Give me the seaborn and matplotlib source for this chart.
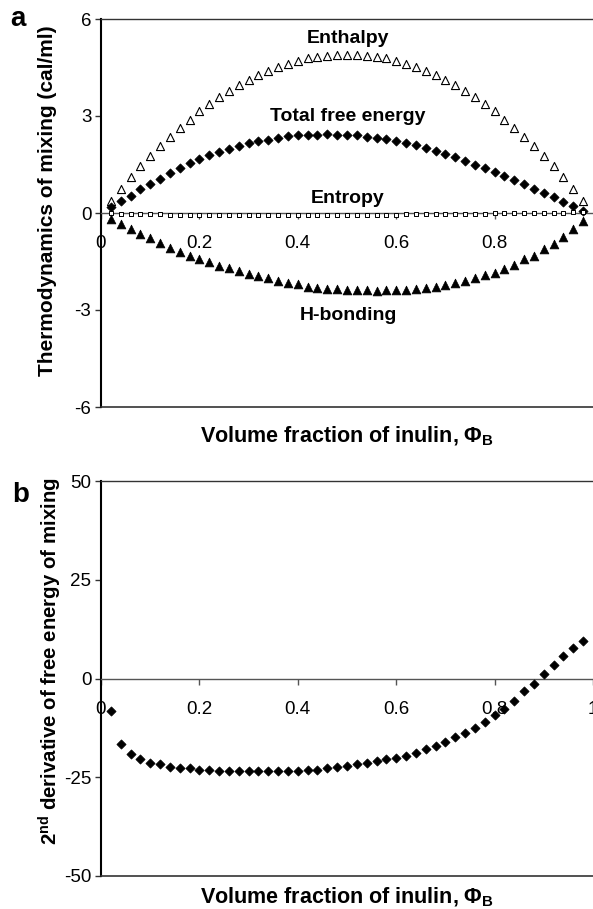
import matplotlib
matplotlib.use("Agg")
import matplotlib.pyplot as plt
import seaborn as sns
import pandas as pd

phi = [0.02, 0.04, 0.06, 0.08, 0.10, 0.12, 0.14, 0.16, 0.18, 0.20,
       0.22, 0.24, 0.26, 0.28, 0.30, 0.32, 0.34, 0.36, 0.38, 0.40,
       0.42, 0.44, 0.46, 0.48, 0.50, 0.52, 0.54, 0.56, 0.58, 0.60,
       0.62, 0.64, 0.66, 0.68, 0.70, 0.72, 0.74, 0.76, 0.78, 0.80,
       0.82, 0.84, 0.86, 0.88, 0.90, 0.92, 0.94, 0.96, 0.98]

enthalpy = [0.38, 0.75, 1.11, 1.44, 1.76, 2.07, 2.36, 2.63, 2.89, 3.14,
            3.36, 3.58, 3.77, 3.95, 4.12, 4.27, 4.40, 4.52, 4.62, 4.70,
            4.78, 4.83, 4.87, 4.89, 4.90, 4.89, 4.87, 4.83, 4.78, 4.70,
            4.62, 4.52, 4.40, 4.27, 4.12, 3.95, 3.77, 3.58, 3.36, 3.14,
            2.89, 2.63, 2.36, 2.07, 1.76, 1.44, 1.11, 0.75, 0.38]

free_energy = [0.19, 0.38, 0.54, 0.73, 0.90, 1.05, 1.23, 1.38, 1.54, 1.66,
               1.79, 1.88, 1.98, 2.07, 2.16, 2.22, 2.27, 2.32, 2.38, 2.40,
               2.42, 2.42, 2.45, 2.42, 2.42, 2.40, 2.36, 2.33, 2.29, 2.22,
               2.16, 2.10, 2.02, 1.93, 1.83, 1.74, 1.62, 1.50, 1.38, 1.27,
               1.15, 1.02, 0.90, 0.75, 0.63, 0.50, 0.34, 0.22, 0.07]

entropy = [-0.01, -0.02, -0.03, -0.03, -0.04, -0.04, -0.05, -0.05, -0.06, -0.06,
           -0.06, -0.06, -0.06, -0.07, -0.07, -0.07, -0.07, -0.07, -0.07, -0.07,
           -0.07, -0.06, -0.06, -0.06, -0.06, -0.06, -0.06, -0.05, -0.05, -0.05,
           -0.04, -0.04, -0.04, -0.03, -0.03, -0.03, -0.02, -0.02, -0.02, -0.01,
           -0.01, -0.01, 0.00, 0.00, 0.00, 0.01, 0.01, 0.02, 0.02]

h_bonding = [-0.20, -0.35, -0.50, -0.66, -0.78, -0.92, -1.08, -1.21, -1.33, -1.41,
             -1.51, -1.64, -1.71, -1.79, -1.89, -1.95, -2.02, -2.10, -2.16, -2.20,
             -2.28, -2.31, -2.35, -2.35, -2.38, -2.38, -2.38, -2.42, -2.38, -2.38,
             -2.38, -2.34, -2.31, -2.28, -2.24, -2.16, -2.10, -2.02, -1.93, -1.85,
             -1.72, -1.60, -1.43, -1.33, -1.12, -0.96, -0.75, -0.50, -0.26]

second_deriv = [-8.3, -16.5, -19.2, -20.4, -21.5, -21.7, -22.5, -22.7, -22.7, -23.1,
                -23.1, -23.5, -23.5, -23.5, -23.5, -23.5, -23.5, -23.5, -23.5, -23.5,
                -23.1, -23.1, -22.7, -22.4, -22.1, -21.7, -21.5, -21.0, -20.4, -20.0,
                -19.5, -18.8, -17.8, -17.1, -16.1, -14.7, -13.9, -12.6, -11.0, -9.3,
                -7.6, -5.7, -3.2, -1.3, 1.1, 3.4, 5.6, 7.7, 9.5]

xticks_a = [0, 0.2, 0.4, 0.6, 0.8]
xtick_labels_a = ["0", "0.2", "0.4", "0.6", "0.8"]
xticks_b = [0, 0.2, 0.4, 0.6, 0.8, 1]
xtick_labels_b = ["0", "0.2", "0.4", "0.6", "0.8", "1"]
yticks_a = [-6, -3, 0, 3, 6]
yticks_b = [-50, -25, 0, 25, 50]

sns.set_style("white")
plt.rcParams["font.family"] = ["Liberation Sans", "DejaVu Sans"]
plt.rcParams["axes.unicode_minus"] = False
plt.rcParams["mathtext.fontset"] = "custom"
plt.rcParams["mathtext.rm"] = "Liberation Sans"
plt.rcParams["mathtext.bf"] = "Liberation Sans:bold"
plt.rcParams["text.color"] = "black"
plt.rcParams["axes.labelcolor"] = "black"
plt.rcParams["xtick.color"] = "black"
plt.rcParams["ytick.color"] = "black"

W, H = 593, 909
fig = plt.figure(figsize=(W / 100, H / 100), dpi=100)

def add_axes(top_px, bot_px):
    left = 101 / W
    return fig.add_axes([left, 1 - bot_px / H, 1 - left, (bot_px - top_px) / H])

ax1 = add_axes(19, 407)
ax2 = add_axes(481, 876)

df = pd.DataFrame({"phi": phi, "enthalpy": enthalpy, "free": free_energy,
                   "entropy": entropy, "hb": h_bonding, "d2": second_deriv})

sns.scatterplot(data=df, x="phi", y="enthalpy", ax=ax1, marker="^", s=34,
                facecolor="white", edgecolor="black", linewidth=0.8, zorder=3)
sns.scatterplot(data=df, x="phi", y="free", ax=ax1, marker="D", s=22,
                color="black", edgecolor="black", linewidth=0.5, zorder=3)
sns.scatterplot(data=df, x="phi", y="entropy", ax=ax1, marker="s", s=12,
                facecolor="white", edgecolor="black", linewidth=0.7, zorder=3)
sns.scatterplot(data=df, x="phi", y="hb", ax=ax1, marker="^", s=40,
                color="black", edgecolor="black", linewidth=0.5, zorder=3)
sns.scatterplot(data=df, x="phi", y="d2", ax=ax2, marker="D", s=22,
                color="black", edgecolor="black", linewidth=0.5, zorder=3)

for ax, yt, lim, xt, xtl in [(ax1, yticks_a, 6, xticks_a, xtick_labels_a),
                             (ax2, yticks_b, 50, xticks_b, xtick_labels_b)]:
    ax.set_xlim(0, 1)
    ax.set_ylim(-lim, lim)
    ax.set_xticks(xt)
    ax.set_xticklabels(xtl)
    ax.set_yticks(yt)
    ax.set_yticklabels([str(v) for v in yt])
    ax.set_xlabel("")
    ax.set_ylabel("")
    ax.spines["right"].set_visible(False)
    ax.spines["left"].set_color("black")
    ax.spines["left"].set_linewidth(1.5)
    ax.spines["top"].set_color("#333333")
    ax.spines["top"].set_linewidth(1.0)
    ax.spines["bottom"].set_position(("data", 0))
    ax.spines["bottom"].set_color("#555555")
    ax.spines["bottom"].set_linewidth(1.0)
    ax.axhline(-lim, color="#333333", lw=1.2, clip_on=False, zorder=4)
    ax.tick_params(axis="y", direction="out", length=4, width=1, color="#333333",
                   labelcolor="black", labelsize=13.5, pad=3, left=True)
    ax.tick_params(axis="x", direction="out", length=4, width=1, color="#555555",
                   labelcolor="black", labelsize=13.5, pad=12, bottom=True)
    ax.grid(False)
    ax.set_facecolor("none")

bold = dict(fontweight="bold", fontsize=14, ha="center", va="center", color="black")
ax1.text(0.502, 5.39, "Enthalpy", **bold)
ax1.text(0.502, 2.97, "Total free energy", **bold)
ax1.text(0.502, 0.46, "Entropy", **bold)
ax1.text(0.502, -3.16, "H-bonding", **bold)

fig.text(17.5 / W, 1 - 19.5 / H, "a", fontsize=20, fontweight="bold", ha="center", va="center")
fig.text(21 / W, 1 - 495 / H, "b", fontsize=20, fontweight="bold", ha="center", va="center")

fig.text(48 / W, 1 - 201 / H, "Thermodynamics of mixing (cal/ml)", rotation=90,
         fontsize=15, fontweight="bold", ha="center", va="center")
fig.text(50 / W, 1 - 661 / H, r"2$^{\mathbf{nd}}$ derivative of free energy of mixing",
         rotation=90, fontsize=14.7, fontweight="bold", ha="center", va="center")

xl = r"Volume fraction of inulin, $\mathbf{\Phi}_{\mathbf{B}}$"
fig.text(347 / W, 1 - 442 / H, xl, fontsize=15.5, fontweight="bold", ha="center", va="baseline")
fig.text(347 / W, 1 - 903 / H, xl, fontsize=15.5, fontweight="bold", ha="center", va="baseline")

fig.savefig("out.png", dpi=100)
